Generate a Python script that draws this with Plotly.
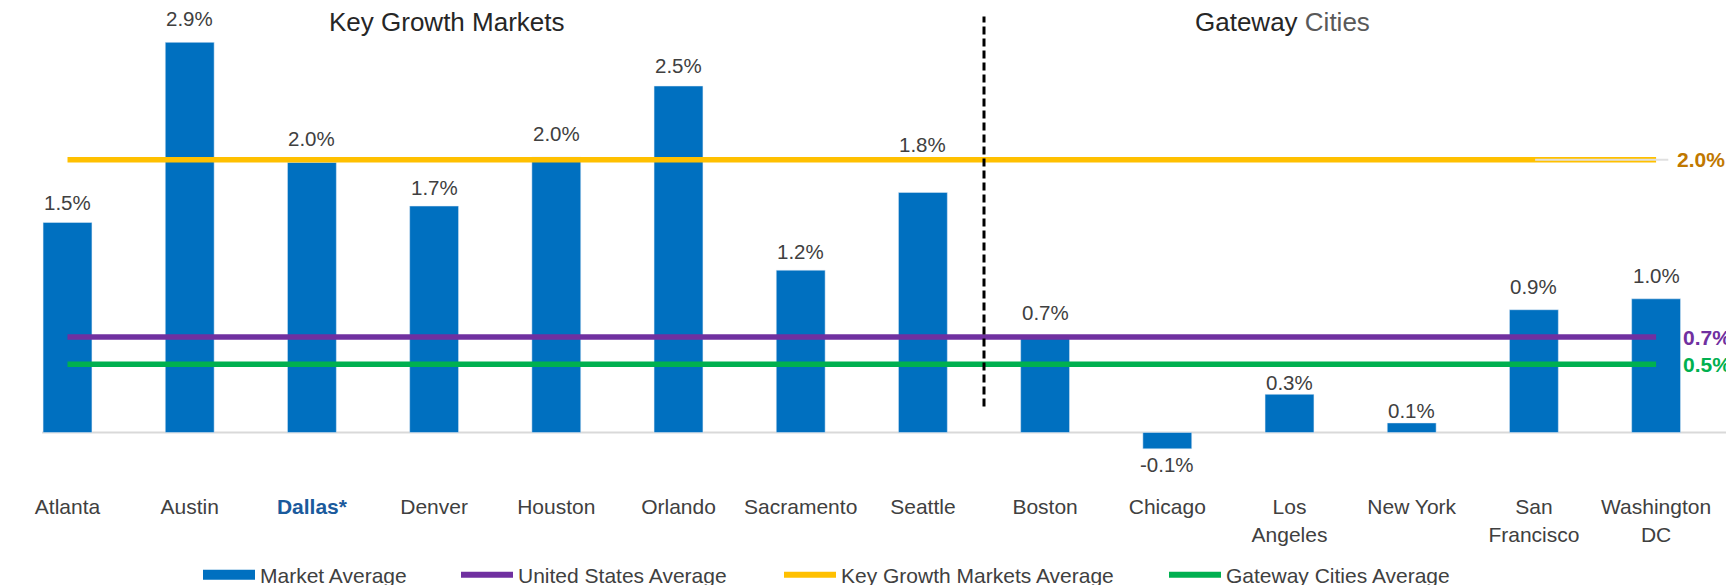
import plotly.graph_objects as go

# data
cities = ["Atlanta", "Austin", "Dallas*", "Denver", "Houston", "Orlando", "Sacramento",
          "Seattle", "Boston", "Chicago", "Los Angeles", "New York", "San Francisco",
          "Washington DC"]
tick_labels = ["Atlanta", "Austin", "<span style='color:#1A5A9C'><b>Dallas*</b></span>",
               "Denver", "Houston", "Orlando", "Sacramento", "Seattle", "Boston", "Chicago",
               "Los<br>Angeles", "New York", "San<br>Francisco", "Washington<br>DC"]
market_avg = [1.54, 2.86, 1.98, 1.66, 2.02, 2.54, 1.19, 1.76, 0.71, -0.12, 0.28, 0.07, 0.9, 0.98]

us_avg = 0.7
key_growth_avg = 2.0
gateway_avg = 0.5

BLUE = "#0070C0"
PURPLE = "#7030A0"
YELLOW = "#FFC000"
GREEN = "#00B050"
TXT = "#404040"
FONT = "Liberation Sans, Arial, sans-serif"

# labels that were nudged by hand in the original (px)
label_nudge = {"Atlanta": -4, "Denver": -5, "Orlando": -3, "Sacramento": -5,
               "Seattle": 24, "Los Angeles": -12, "New York": -11}

fig = go.Figure()

# bars
fig.add_trace(go.Bar(
    x=cities, y=market_avg, marker_color=BLUE, showlegend=False,
    hoverinfo="x+y"
))

# average lines
avg_lines = [
    ("United States Average", us_avg, PURPLE),
    ("Key Growth Markets Average", key_growth_avg, YELLOW),
    ("Gateway Cities Average", gateway_avg, GREEN),
]
for name, val, col in avg_lines:
    fig.add_trace(go.Scatter(
        x=[cities[0], cities[-1]], y=[val, val], mode="lines",
        line=dict(color=col, width=5.5), name=name, showlegend=False
    ))

# legend entries, one legend each so they can be spaced like the original
legend_items = [("Market Average", BLUE, 10)] + [(n, c, 6) for n, v, c in avg_lines]
legend_x = [190, 448, 771, 1156]   # px from the left
legend_ids = ["legend", "legend2", "legend3", "legend4"]
for (name, col, w), lid in zip(legend_items, legend_ids):
    fig.add_trace(go.Scatter(
        x=[None], y=[None], mode="lines", line=dict(color=col, width=w), name=name,
        legend=lid
    ))

annotations = []
# value labels above / below bars
for c, v in zip(cities, market_avg):
    annotations.append(dict(
        x=c, y=v, text=f"{v:.1f}%", showarrow=False,
        yanchor="bottom" if v >= 0 else "top",
        yshift=(10 if v >= 0 else -2) + label_nudge.get(c, 0),
        font=dict(size=20.5, color=TXT, family=FONT)
    ))

# right side average values
right_cols = {"Key Growth Markets Average": "#C07800"}
for name, val, col in avg_lines:
    annotations.append(dict(
        x=cities[-1], y=val, text=f"<b>{val:.1f}%</b>", showarrow=False,
        xanchor="left", xshift=19 if val > 1 else 25,
        font=dict(size=21, color=right_cols.get(name, col), family=FONT)
    ))

# group titles
annotations.append(dict(
    x=0.2532, y=0.97, xref="paper", yref="paper", text="Key Growth Markets",
    xanchor="center", yanchor="middle",
    showarrow=False, font=dict(size=26, color="#262626", family=FONT)
))
annotations.append(dict(
    x=0.735, y=0.97, xref="paper", yref="paper",
    text="Gateway <span style='color:#595959'>Cities</span>",
    xanchor="center", yanchor="middle",
    showarrow=False, font=dict(size=26, color="#262626", family=FONT)
))

shapes = [
    # zero baseline
    dict(type="line", xref="paper", yref="y", x0=0.0196, x1=1, y0=0, y1=0,
         line=dict(color="#D9D9D9", width=2), layer="below"),
    # divider between the two groups
    dict(type="line", xref="x", yref="y", x0=7.5, x1=7.5, y0=0.19, y1=3.05,
         line=dict(color="black", width=3, dash="8px,4px")),
    # leader line to the key growth label
    dict(type="line", xref="x", yref="y", x0=12.01, x1=13.1, y0=key_growth_avg,
         y1=key_growth_avg, line=dict(color="#E0E0E0", width=2)),
]

legend_style = dict(
    orientation="h", xanchor="left", y=0.0308, yref="container", yanchor="middle",
    font=dict(size=21, color=TXT, family=FONT), itemwidth=52,
    bgcolor="rgba(0,0,0,0)"
)
legends = {lid: dict(legend_style, x=lx / 1734) for lid, lx in zip(legend_ids, legend_x)}

fig.update_layout(
    width=1734, height=585,
    margin=dict(l=0, r=0, t=0, b=120),
    plot_bgcolor="white", paper_bgcolor="white",
    bargap=0.6,
    font=dict(family=FONT, size=20, color=TXT),
    annotations=annotations,
    shapes=shapes,
    **legends,
)
fig.update_xaxes(
    type="category", range=[-0.487, 13.703], tickvals=cities, ticktext=tick_labels,
    showgrid=False, zeroline=False, showline=False,
    ticks="outside", ticklen=15, tickcolor="rgba(0,0,0,0)",
    tickfont=dict(size=21, color=TXT, family=FONT)
)
fig.update_yaxes(
    range=[-0.297, 3.112], visible=False, showgrid=False, zeroline=False
)

fig.write_html("out.html")
